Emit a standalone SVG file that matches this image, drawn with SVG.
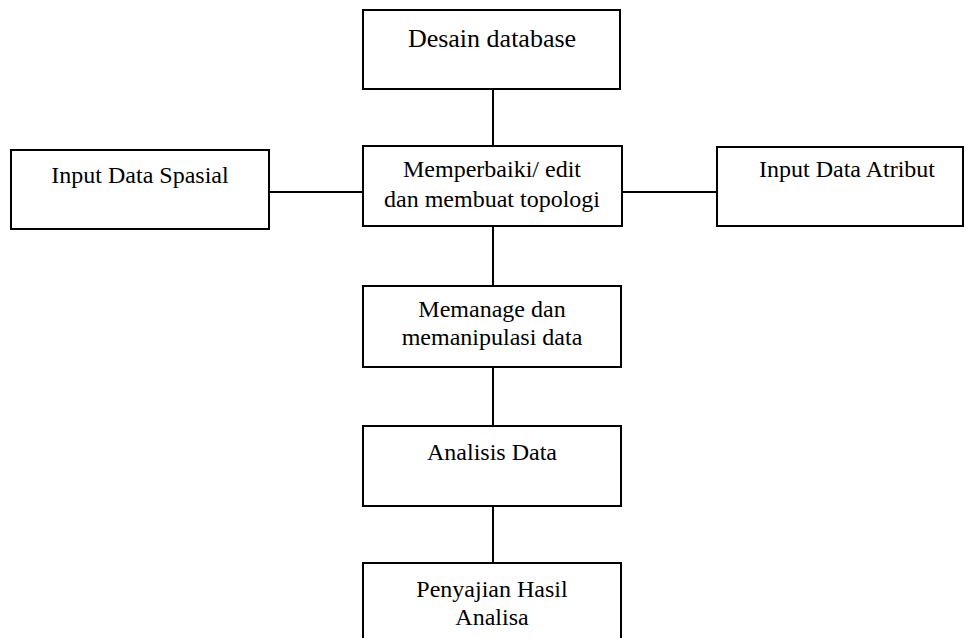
<svg xmlns="http://www.w3.org/2000/svg" width="966" height="638" viewBox="0 0 966 638">
<style>
.box{fill:#fff;stroke:#000;stroke-width:2}
.ln{stroke:#000;stroke-width:2;fill:none}
.t{font-family:'Liberation Serif','Tinos','Times New Roman','Noto Serif','DejaVu Serif',serif;font-size:24px;fill:#000;text-anchor:middle}
</style>
<rect width="966" height="638" fill="#fff"/>
<g id="connectors">
<line class="ln" x1="493" y1="89" x2="493" y2="146"/>
<line class="ln" x1="269" y1="192" x2="363" y2="192"/>
<line class="ln" x1="622" y1="192" x2="717" y2="192"/>
<line class="ln" x1="493" y1="226" x2="493" y2="286"/>
<line class="ln" x1="493" y1="367" x2="493" y2="426"/>
<line class="ln" x1="493" y1="506" x2="493" y2="563"/>
</g>
<g id="desain">
<rect class="box" x="363" y="10" width="257" height="79"/>
<text class="t" x="492" y="47" style="font-size:26px">Desain database</text>
</g>
<g id="spasial">
<rect class="box" x="11" y="150" width="258" height="79"/>
<text class="t" x="140" y="183">Input Data Spasial</text>
</g>
<g id="edit">
<rect class="box" x="363" y="146" width="259" height="80"/>
<text class="t" x="492" y="177">Memperbaiki/ edit</text>
<text class="t" x="492" y="207">dan membuat topologi</text>
</g>
<g id="atribut">
<rect class="box" x="717" y="147" width="246" height="79"/>
<text class="t" x="847" y="177">Input Data Atribut</text>
</g>
<g id="memanage">
<rect class="box" x="363" y="286" width="258" height="81"/>
<text class="t" x="492" y="317">Memanage dan</text>
<text class="t" x="492" y="345">memanipulasi data</text>
</g>
<g id="analisis">
<rect class="box" x="363" y="426" width="258" height="80"/>
<text class="t" x="492" y="460">Analisis Data</text>
</g>
<g id="penyajian">
<rect class="box" x="363" y="563" width="258" height="90"/>
<text class="t" x="492" y="597">Penyajian Hasil</text>
<text class="t" x="492" y="625">Analisa</text>
</g>
</svg>
